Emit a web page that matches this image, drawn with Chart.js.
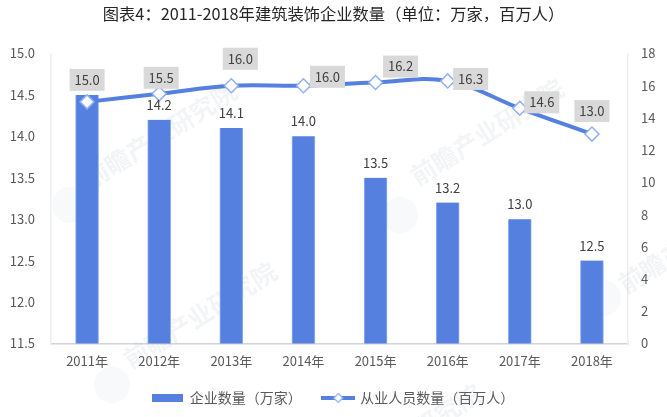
<!DOCTYPE html>
<html>
<head>
<meta charset="utf-8">
<style>
  html, body { margin: 0; padding: 0; background: #fff; }
  #wrap { width: 667px; height: 417px; position: relative; }
</style>
<script src="https://cdn.jsdelivr.net/npm/chart.js@4/dist/chart.umd.min.js"></script>
</head>
<body>
<div id="wrap"><canvas id="chart"></canvas></div>
<script>
var FONT = '"Noto Sans CJK SC", "Noto Sans", sans-serif';

var years = ['2011年', '2012年', '2013年', '2014年', '2015年', '2016年', '2017年', '2018年'];
var companies = [14.5, 14.2, 14.1, 14.0, 13.5, 13.2, 13.0, 12.5];
var workers = [15.0, 15.5, 16.0, 16.0, 16.2, 16.3, 14.6, 13.0];

// where the grey boxes sit, relative to their point
var boxOffsetX = [0, 2, 9, 24, 25, 23, 22, 0];
var boxOffsetY = [-22, -16, -27, -9, -16, -2, -6, -23];

var blue = '#5580e0';
var edge = '#8fb0f2';

// legend swatches
function barSwatch() {
  var c = document.createElement('canvas');
  c.width = 31; c.height = 8;
  var g = c.getContext('2d');
  g.fillStyle = blue;
  g.fillRect(0, 0, 31, 8);
  return c;
}
function lineSwatch() {
  var c = document.createElement('canvas');
  c.width = 34; c.height = 12;
  var g = c.getContext('2d');
  g.fillStyle = blue;
  g.fillRect(0, 4, 34, 4);
  g.fillStyle = '#fff';
  g.strokeStyle = edge;
  g.lineWidth = 1.2;
  g.beginPath();
  g.moveTo(17, 1.5); g.lineTo(21.5, 6); g.lineTo(17, 10.5); g.lineTo(12.5, 6);
  g.closePath();
  g.fill();
  g.stroke();
  return c;
}

var watermark = {
  id: 'watermark',
  beforeDatasetsDraw: function (chart) {
    var ctx = chart.ctx;
    var spots = [[160, 135], [487, 132], [200, 315], [695, 240], [405, 437]];
    var logos = [[70, 205], [400, 215], [112, 385], [603, 298]];
    ctx.save();
    ctx.font = 'bold 25px ' + FONT;
    ctx.fillStyle = 'rgba(150,165,185,0.12)';
    ctx.textAlign = 'center';
    ctx.textBaseline = 'middle';
    spots.forEach(function (p) {
      ctx.save();
      ctx.translate(p[0], p[1]);
      ctx.rotate(-0.56);
      ctx.fillText('前瞻产业研究院', 0, 0);
      ctx.restore();
    });
    ctx.fillStyle = 'rgba(150,165,185,0.07)';
    logos.forEach(function (p) {
      ctx.beginPath();
      ctx.arc(p[0], p[1], 18, 0, Math.PI * 2);
      ctx.fill();
    });
    ctx.restore();
  }
};

var valueLabels = {
  id: 'valueLabels',
  afterDatasetsDraw: function (chart) {
    var ctx = chart.ctx;
    var bars = chart.getDatasetMeta(0).data;
    var pts = chart.getDatasetMeta(1).data;
    ctx.save();
    ctx.font = '13px ' + FONT;
    ctx.textAlign = 'center';
    ctx.textBaseline = 'middle';
    ctx.fillStyle = '#404040';
    // first bar label is hidden under the marker in the picture
    bars.forEach(function (b, i) {
      if (i === 0) return;
      ctx.fillText(companies[i].toFixed(1), b.x, b.y - 15);
    });
    pts.forEach(function (p, i) {
      var x = p.x + boxOffsetX[i];
      var y = p.y + boxOffsetY[i];
      ctx.fillStyle = '#d9d9d9';
      ctx.fillRect(x - 17.5, y - 11, 35, 22);
      ctx.fillStyle = '#404040';
      ctx.fillText(workers[i].toFixed(1), x, y);
    });
    ctx.restore();
  }
};

new Chart(document.getElementById('chart'), {
  data: {
    labels: years,
    datasets: [
      {
        type: 'bar',
        label: '企业数量（万家）',
        data: companies,
        yAxisID: 'y',
        backgroundColor: blue,
        borderColor: edge,
        borderWidth: { left: 1, right: 1, top: 0, bottom: 0 },
        barThickness: 23,
        order: 2
      },
      {
        type: 'line',
        label: '从业人员数量（百万人）',
        data: workers,
        yAxisID: 'y2',
        borderColor: blue,
        borderWidth: 4,
        tension: 0.4,
        pointStyle: 'rectRot',
        pointRadius: 7,
        pointBorderWidth: 1.5,
        pointBackgroundColor: '#fff',
        pointBorderColor: edge,
        order: 1
      }
    ]
  },
  options: {
    responsive: true,
    maintainAspectRatio: false,
    animation: false,
    layout: { padding: { left: 0, right: 0, top: 0, bottom: 2 } },
    plugins: {
      title: {
        display: true,
        text: '图表4：2011-2018年建筑装饰企业数量（单位：万家，百万人）',
        color: '#262626',
        font: { family: FONT, size: 16.3, weight: 'normal' },
        padding: { top: 4, bottom: 30 }
      },
      legend: {
        position: 'bottom',
        labels: {
          color: '#595959',
          font: { family: FONT, size: 14 },
          usePointStyle: true,
          pointStyleWidth: 30,
          padding: 12,
          generateLabels: function (chart) {
            // trailing spaces widen the gap between the two entries
            return [
              { text: '企业数量（万家）   ', pointStyle: barSwatch(), datasetIndex: 0, fontColor: '#595959' },
              { text: '从业人员数量（百万人）', pointStyle: lineSwatch(), datasetIndex: 1, fontColor: '#595959' }
            ];
          }
        }
      },
      tooltip: { enabled: false }
    },
    scales: {
      x: {
        grid: { display: false, drawTicks: false },
        border: { color: '#d4d4d4', width: 1.5 },
        ticks: { color: '#595959', font: { family: FONT, size: 13 }, padding: 10, maxRotation: 0, autoSkip: false }
      },
      y: {
        position: 'left',
        min: 11.5,
        max: 15,
        grid: { display: false, drawTicks: false },
        border: { color: '#efefef', width: 1.5 },
        afterFit: function (s) { s.width = 51; },
        ticks: {
          stepSize: 0.5,
          color: '#595959',
          font: { family: FONT, size: 13 },
          padding: 16,
          callback: function (v) { return v.toFixed(1); }
        }
      },
      y2: {
        position: 'right',
        min: 0,
        max: 18,
        grid: { display: false, drawTicks: false },
        border: { color: '#efefef', width: 1.5 },
        afterFit: function (s) { s.width = 39; },
        ticks: { stepSize: 2, color: '#595959', font: { family: FONT, size: 13 }, padding: 13 }
      }
    }
  },
  plugins: [watermark, valueLabels]
});
</script>
</body>
</html>
